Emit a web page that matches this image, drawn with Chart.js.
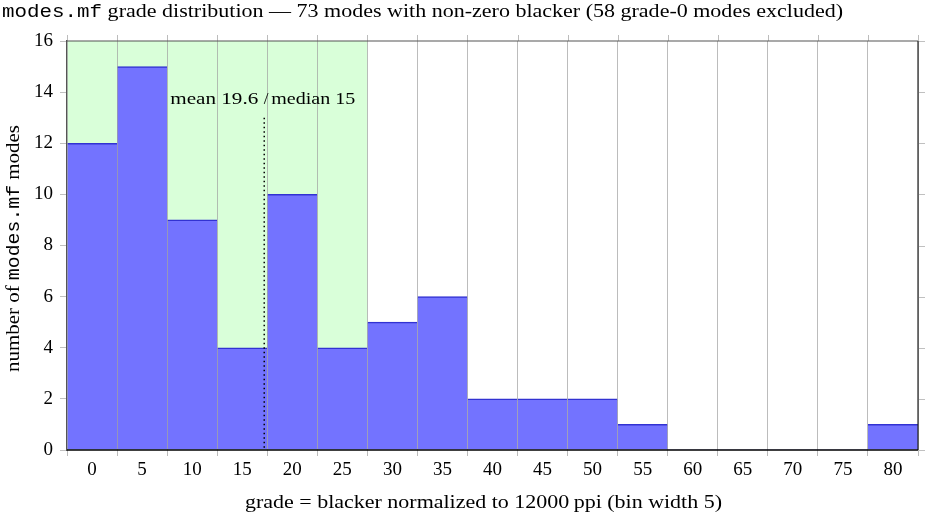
<!DOCTYPE html>
<html>
<head>
<meta charset="utf-8">
<script src="https://cdn.jsdelivr.net/npm/chart.js@4"></script>
<style>
  html, body { margin: 0; padding: 0; background: #fff; }
  #wrap { width: 928px; height: 516px; }
</style>
</head>
<body>
<div id="wrap"><canvas id="myChart" width="928" height="516"></canvas></div>
<script>
// bins (grade, width 5) and mode counts
var bins = [0, 5, 10, 15, 20, 25, 30, 35, 40, 45, 50, 55, 60, 65, 70, 75, 80];
var counts = [12, 15, 9, 4, 10, 4, 5, 6, 2, 2, 2, 1, 0, 0, 0, 0, 1];
var yTicks = [0, 2, 4, 6, 8, 10, 12, 14, 16];
// shaded bins and marker
var shadeBins = [0, 25];
var markerGrade = 17.2;
var markerTop = 13;
var meanText = 'mean 19.6';
var medianText = 'median 15';

var serif = '"Liberation Serif", "DejaVu Serif", serif';
var mono = '"Liberation Mono", "DejaVu Sans Mono", monospace';

function gradeToIndex(g) { return g / 5; }

// draw text parts (mixed fonts) from x0, stretched to width w
function drawFit(ctx, parts, x0, w, y) {
  var total = 0;
  parts.forEach(function (p) { ctx.font = p.font; total += ctx.measureText(p.t).width; });
  var sx = w / total;
  ctx.save();
  ctx.translate(x0, y);
  ctx.scale(sx, 1);
  var cx = 0;
  ctx.textAlign = 'left';
  parts.forEach(function (p) {
    ctx.font = p.font;
    ctx.fillText(p.t, cx, 0);
    cx += ctx.measureText(p.t).width;
  });
  ctx.restore();
}

const decor = {
  id: 'decor',
  beforeDraw: function (chart) {
    var ctx = chart.ctx, xs = chart.scales.x, ys = chart.scales.y;
    var x0 = xs.getPixelForValue(gradeToIndex(shadeBins[0]) - 0.5);
    var x1 = xs.getPixelForValue(gradeToIndex(shadeBins[1]) + 0.5);
    var top = ys.getPixelForValue(16), bot = ys.getPixelForValue(0);
    ctx.save();
    ctx.fillStyle = 'rgb(217,255,217)';
    ctx.fillRect(x0, top, x1 - x0, bot - top);
    ctx.restore();
  },
  afterDraw: function (chart) {
    var ctx = chart.ctx, xs = chart.scales.x, ys = chart.scales.y;
    var a = chart.chartArea;
    ctx.save();
    // mirrored ticks top and right
    ctx.strokeStyle = 'rgba(160,160,160,0.7)';
    ctx.lineWidth = 1;
    for (var i = 0; i <= bins.length; i++) {
      var px = Math.round(xs.getPixelForValue(i - 0.5)) + 0.5;
      ctx.beginPath(); ctx.moveTo(px, a.top); ctx.lineTo(px, a.top - 6); ctx.stroke();
    }
    ctx.strokeStyle = '#c0c0c0';
    yTicks.forEach(function (v) {
      var py = Math.round(ys.getPixelForValue(v)) + 0.5;
      ctx.beginPath(); ctx.moveTo(a.right, py); ctx.lineTo(a.right + 7, py); ctx.stroke();
    });
    // frame
    ctx.strokeStyle = '#555';
    ctx.lineWidth = 1.2;
    ctx.beginPath(); ctx.moveTo(a.left, a.top); ctx.lineTo(a.right, a.top); ctx.stroke();
    ctx.strokeStyle = '#222';
    ctx.beginPath(); ctx.moveTo(a.right, a.top); ctx.lineTo(a.right, a.bottom); ctx.stroke();
    ctx.strokeStyle = '#000';
    ctx.lineWidth = 1.5;
    ctx.beginPath(); ctx.moveTo(a.left, a.bottom); ctx.lineTo(a.right, a.bottom); ctx.stroke();

    // marker line
    var mx = xs.getPixelForValue(gradeToIndex(markerGrade));
    ctx.strokeStyle = '#000';
    ctx.lineWidth = 1.5;
    ctx.setLineDash([1.5, 3]);
    ctx.beginPath(); ctx.moveTo(mx, ys.getPixelForValue(markerTop)); ctx.lineTo(mx, a.bottom); ctx.stroke();
    ctx.setLineDash([]);

    // annotation
    ctx.fillStyle = '#000';
    ctx.textBaseline = 'middle';
    var af = '17px ' + serif;
    drawFit(ctx, [{ t: meanText, font: af }], mx - 94, 88, 100);
    ctx.font = af;
    ctx.textAlign = 'center';
    ctx.fillText('/', mx + 2, 100);
    drawFit(ctx, [{ t: medianText, font: af }], mx + 7, 84, 100);

    // title
    drawFit(ctx, [
      { t: 'modes.mf', font: '18px ' + mono },
      { t: ' grade distribution \u2014 73 modes with non-zero blacker (58 grade-0 modes excluded)', font: '19px ' + serif }
    ], 2, 841, 12);

    // x title
    drawFit(ctx, [
      { t: 'grade = blacker normalized to 12000\u2009ppi (bin width 5)', font: '19px ' + serif }
    ], 245, 477, 503);

    // y title
    ctx.translate(14, 372);
    ctx.rotate(-Math.PI / 2);
    drawFit(ctx, [
      { t: 'number of ', font: '19px ' + serif },
      { t: 'modes.mf', font: '18px ' + mono },
      { t: ' modes', font: '19px ' + serif }
    ], 0, 247, 0);
    ctx.restore();
  }
};

const data = {
  labels: bins,
  datasets: [{
    label: 'modes',
    data: counts,
    backgroundColor: 'rgb(115,115,255)',
    borderColor: 'rgb(50,50,210)',
    borderWidth: { top: 1.5, left: 0, right: 0, bottom: 0 },
    borderSkipped: false,
    barPercentage: 1,
    categoryPercentage: 1
  }]
};

const config = {
  type: 'bar',
  data: data,
  plugins: [decor],
  options: {
    responsive: false,
    animation: false,
    layout: { padding: { top: 41, right: 10, left: 0, bottom: 0 } },
    plugins: {
      legend: { display: false },
      tooltip: { enabled: false }
    },
    scales: {
      x: {
        offset: true,
        afterFit: function (s) { s.height = 66; },
        grid: {
          offset: true,
          z: 1,
          color: 'rgba(160,160,160,0.7)',
          lineWidth: 1,
          tickLength: 6
        },
        border: { display: false },
        ticks: {
          color: '#000',
          font: { family: serif, size: 19 },
          padding: 3,
          maxRotation: 0,
          autoSkip: false
        }
      },
      y: {
        min: 0,
        max: 16,
        afterFit: function (s) { s.width = 67; },
        grid: {
          drawOnChartArea: false,
          color: '#c0c0c0',
          tickLength: 7
        },
        border: { color: '#555', width: 1.2 },
        ticks: {
          stepSize: 2,
          color: '#000',
          font: { family: serif, size: 19 },
          padding: 7
        }
      }
    }
  }
};

const myChart = new Chart(document.getElementById('myChart'), config);
</script>
</body>
</html>
